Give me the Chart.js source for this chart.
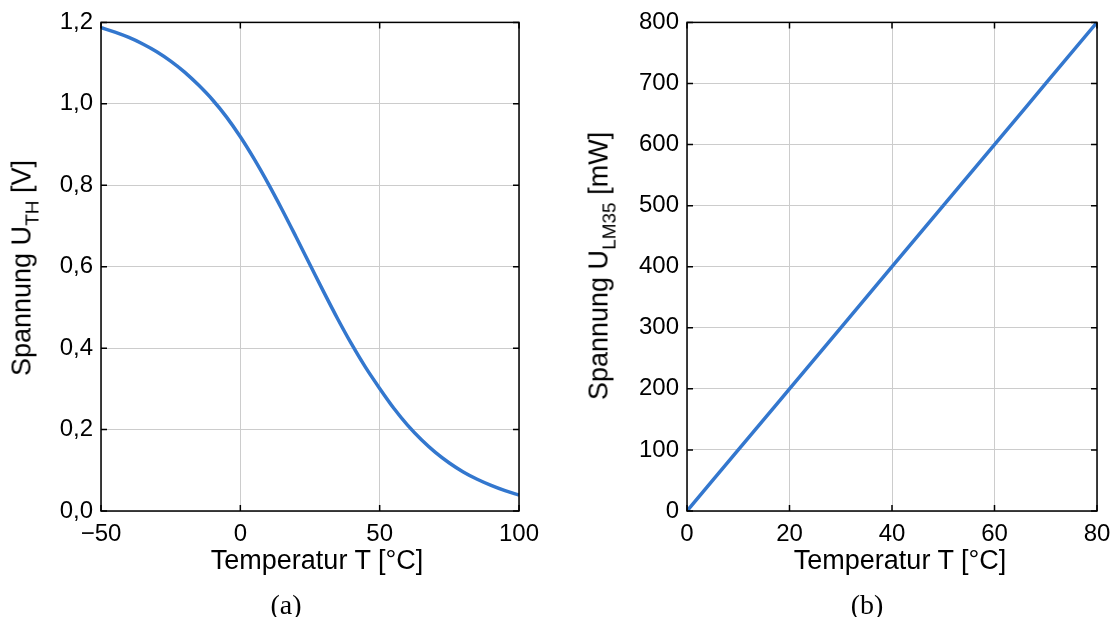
<!DOCTYPE html>
<html>
<head>
<meta charset="utf-8">
<script src="https://cdn.jsdelivr.net/npm/chart.js@4/dist/chart.umd.min.js"></script>
<style>
  html, body { margin:0; padding:0; background:#fff; }
  body { width:1112px; height:617px; position:relative; overflow:hidden; font-family:"Liberation Sans", Arial, sans-serif; }
  canvas { position:absolute; top:0; }
  .ytitle { position:absolute; font-size:27px; line-height:27px; white-space:nowrap; color:#000;
            transform:translate(-50%,-50%) rotate(-90deg); }
  .ytitle sub { font-size:19px; vertical-align:-8px; line-height:0; }
  .xtitle { position:absolute; font-size:27px; line-height:27px; white-space:nowrap; color:#000; transform:translateX(-50%); }
  .cap { position:absolute; font-family:"Liberation Serif","DejaVu Serif",serif; font-size:28px; line-height:28px; color:#000; transform:translateX(-50%); }
</style>
</head>
<body>
<canvas id="c1" width="560" height="617" style="left:0"></canvas>
<canvas id="c2" width="570" height="617" style="left:560px"></canvas>

<div class="ytitle" style="left:22px; top:268px;">Spannung U<sub>TH</sub> [V]</div>
<div class="ytitle" style="left:599px; top:266px;">Spannung U<sub>LM35</sub> [mW]</div>
<div class="xtitle" style="left:317px; top:547px;">Temperatur T [°C]</div>
<div class="xtitle" style="left:900px; top:547px;">Temperatur T [°C]</div>
<div class="cap" style="left:286px; top:591px;">(a)</div>
<div class="cap" style="left:867px; top:591px;">(b)</div>

<script>
// ---- Data ----
const tempA = [-50,-45,-40,-35,-30,-25,-20,-15,-10,-5,0,5,10,15,20,25,30,35,40,45,50,55,60,65,70,75,80,85,90,95,100];
const voltA = [1.187,1.176,1.163,1.147,1.128,1.105,1.078,1.046,1.010,0.968,0.919,0.864,0.804,0.740,0.673,0.605,0.537,0.471,0.409,0.352,0.301,0.253,0.211,0.175,0.144,0.118,0.096,0.078,0.063,0.050,0.039];
const tempB = [0,10,20,30,40,50,60,70,80];
const voltB = [0,100,200,300,400,500,600,700,800];

const xTicksA = [-50,0,50,100];
const yTicksA = [0,0.2,0.4,0.6,0.8,1.0,1.2];
const xTicksB = [0,20,40,60,80];
const yTicksB = [0,100,200,300,400,500,600,700,800];

const LINE = 'rgb(51,119,206)';
const GRID = 'rgb(204,204,204)';
const TICKFONT = { family: '"Liberation Sans", Arial, sans-serif', size: 24 };

// Box + inward tick marks (MATLAB-like)
const boxPlugin = {
  id: 'boxPlugin',
  afterDatasetsDraw(chart) {
    const { ctx, chartArea: a, scales } = chart;
    const L = 6;
    ctx.save();
    ctx.strokeStyle = '#000';
    ctx.lineWidth = 1.5;
    ctx.beginPath();
    scales.x.ticks.forEach(t => {
      const px = scales.x.getPixelForValue(t.value);
      ctx.moveTo(px, a.bottom); ctx.lineTo(px, a.bottom - L);
      ctx.moveTo(px, a.top); ctx.lineTo(px, a.top + L);
    });
    scales.y.ticks.forEach(t => {
      const py = scales.y.getPixelForValue(t.value);
      ctx.moveTo(a.left, py); ctx.lineTo(a.left + L, py);
      ctx.moveTo(a.right, py); ctx.lineTo(a.right - L, py);
    });
    ctx.stroke();
    ctx.strokeRect(a.left, a.top, a.right - a.left, a.bottom - a.top);
    ctx.restore();
  }
};

function makeChart(id, xs, ys, xmin, xmax, xTicks, ymin, ymax, yTicks, leftW, padRight, yFmt) {
  const pts = xs.map((x, i) => ({ x: x, y: ys[i] }));
  return new Chart(document.getElementById(id), {
    type: 'line',
    data: { datasets: [{ data: pts, borderColor: LINE, borderWidth: 3.5, pointRadius: 0,
                         cubicInterpolationMode: 'monotone', fill: false }] },
    options: {
      responsive: false, animation: false, devicePixelRatio: 1,
      layout: { padding: { top: 18, right: padRight, left: 0, bottom: 0 } },
      plugins: { legend: { display: false }, tooltip: { enabled: false } },
      scales: {
        x: {
          type: 'linear', min: xmin, max: xmax,
          afterBuildTicks: s => { s.ticks = xTicks.map(v => ({ value: v })); },
          afterFit: s => { s.height = 106; },
          ticks: { color: '#000', font: TICKFONT, padding: 9, maxRotation: 0,
                   callback: v => String(v).replace('-', '\u2212') },
          grid: { color: GRID, lineWidth: 1, drawTicks: false },
          border: { display: false }
        },
        y: {
          type: 'linear', min: ymin, max: ymax,
          afterBuildTicks: s => { s.ticks = yTicks.map(v => ({ value: v })); },
          afterFit: s => { s.width = leftW; },
          ticks: { color: '#000', font: TICKFONT, padding: 8, callback: yFmt },
          grid: { color: GRID, lineWidth: 1, drawTicks: false },
          border: { display: false }
        }
      }
    },
    plugins: [boxPlugin]
  });
}

makeChart('c1', tempA, voltA, -50, 100, xTicksA, 0, 1.2, yTicksA, 101, 41,
          v => v.toFixed(1).replace('.', ','));
makeChart('c2', tempB, voltB, 0, 80, xTicksB, 0, 800, yTicksB, 127, 33,
          v => String(v));
</script>
</body>
</html>
